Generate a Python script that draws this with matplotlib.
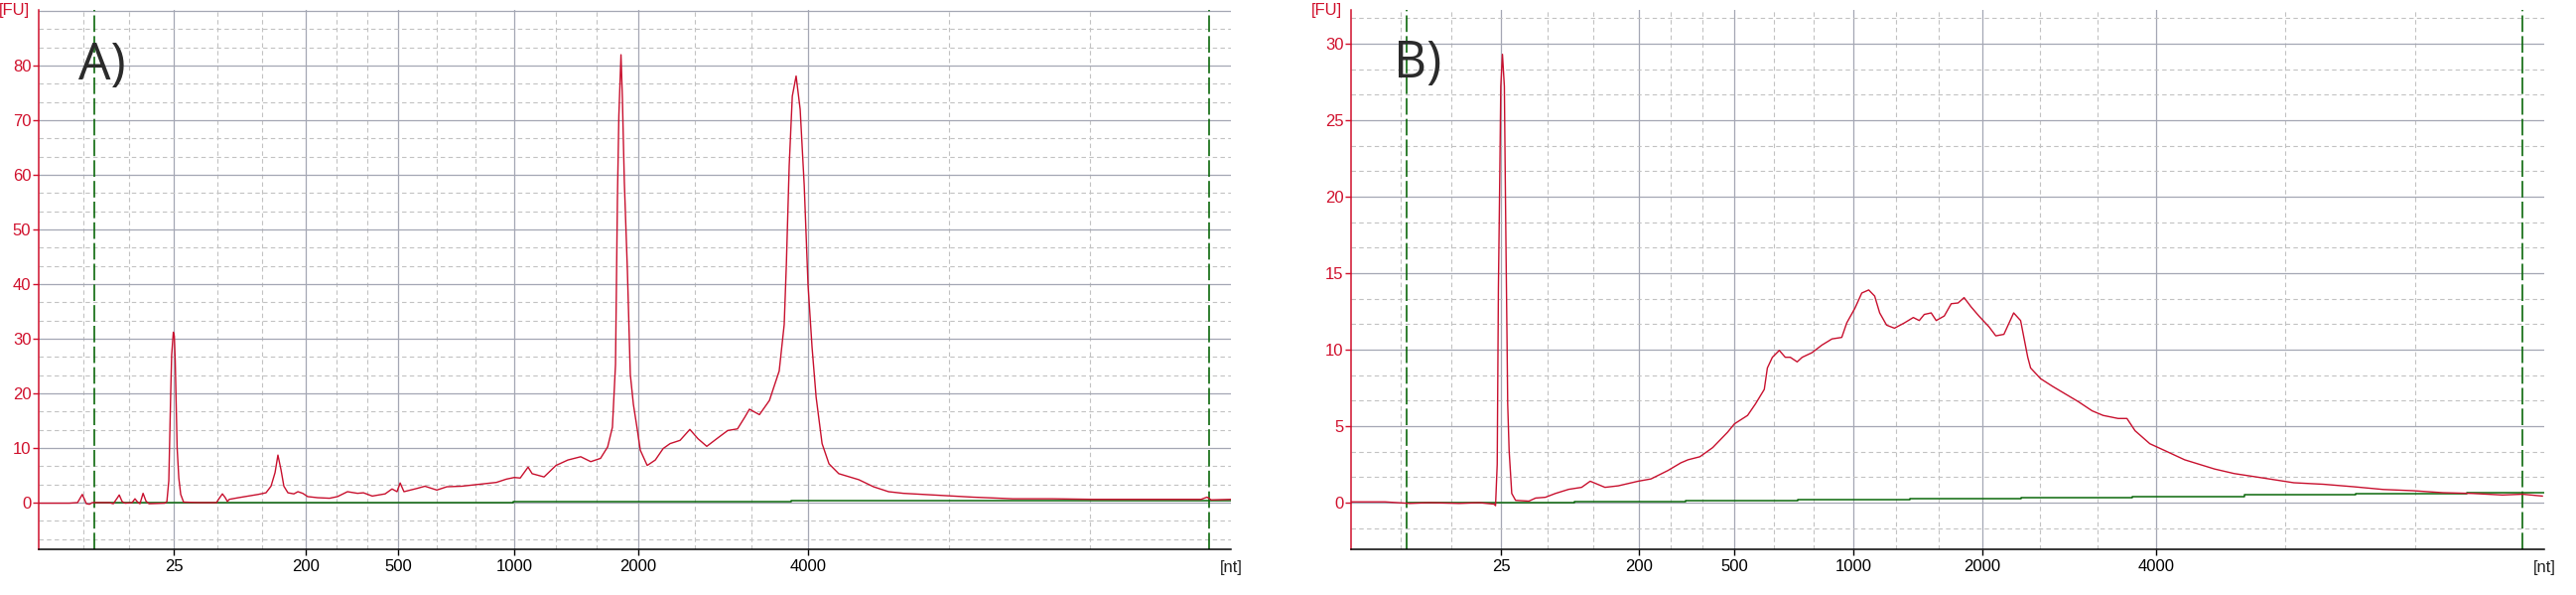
import matplotlib.pyplot as plt
import numpy as np

# ---- data: migration time [s] vs fluorescence [FU] ----
# Panel A
time_a = [19.00, 20.29, 20.63, 20.83, 21.00, 21.13, 21.25, 21.96, 22.13, 22.29, 22.38, 22.50,
          22.63, 22.92, 23.04, 23.17, 23.25, 23.38, 23.50, 23.63, 24.29, 24.38, 24.46, 24.50,
          24.54, 24.58, 24.65, 24.69, 24.73, 24.77, 24.81, 24.88, 24.96, 25.08, 25.71, 26.46,
          26.58, 26.71, 26.83, 26.92, 27.00, 27.38, 27.79, 28.21, 28.54, 28.75, 28.92, 29.04,
          29.17, 29.29, 29.46, 29.71, 29.88, 30.08, 30.29, 30.71, 31.21, 31.54, 31.96, 32.38,
          32.63, 33.00, 33.54, 33.83, 34.04, 34.17, 34.33, 34.88, 35.21, 35.71, 36.13, 36.75,
          37.38, 38.21, 38.63, 38.96, 39.21, 39.54, 39.71, 40.21, 40.71, 41.21, 41.75, 42.17,
          42.58, 42.88, 43.08, 43.21, 43.29, 43.35, 43.44, 43.50, 43.58, 43.71, 43.83, 43.96,
          44.13, 44.25, 44.54, 44.88, 45.21, 45.50, 45.92, 46.33, 46.67, 47.04, 47.46, 47.92,
          48.33, 48.63, 48.83, 49.25, 49.67, 50.08, 50.29, 50.38, 50.50, 50.63, 50.79, 50.96,
          51.13, 51.29, 51.46, 51.63, 51.88, 52.17, 52.58, 53.42, 54.04, 54.67, 55.29, 56.96,
          58.21, 59.88, 61.54, 63.21, 65.29, 67.79, 68.04, 68.21, 69.04]
fu_a = [-0.1, -0.1, 0.0, 1.5, -0.2, -0.3, 0.0, 0.0, -0.2, 0.8, 1.4, 0.2,
        -0.1, 0.0, 0.7, 0.0, -0.2, 1.7, 0.3, -0.2, -0.1, 0.2, 4.0, 12.0,
        20.0, 27.0, 31.2, 30.5, 26.0, 18.0, 10.0, 4.5, 1.5, 0.1, 0.0, 0.0,
        0.8, 1.6, 0.9, 0.2, 0.6, 0.9, 1.2, 1.5, 1.8, 3.0, 5.5, 8.7,
        6.0, 3.0, 1.8, 1.6, 2.0, 1.7, 1.1, 0.9, 0.8, 1.1, 2.0, 1.7,
        1.8, 1.2, 1.6, 2.5, 2.0, 3.6, 2.0, 2.6, 3.0, 2.3, 2.9, 3.0,
        3.3, 3.7, 4.3, 4.6, 4.5, 6.5, 5.3, 4.7, 6.8, 7.8, 8.4, 7.5,
        8.1, 10.2, 13.8, 25.3, 55.6, 70.8, 82.0, 73.8, 58.7, 42.3, 23.5, 18.0,
        13.2, 9.6, 6.8, 7.8, 9.9, 10.8, 11.4, 13.4, 11.7, 10.3, 11.7, 13.2,
        13.5, 15.6, 17.1, 16.1, 18.7, 24.1, 32.6, 43.5, 61.7, 74.4, 78.1, 72.0,
        58.1, 39.9, 28.4, 19.3, 10.8, 7.1, 5.3, 4.2, 2.9, 2.0, 1.7, 1.3,
        1.0, 0.7, 0.7, 0.6, 0.6, 0.6, 1.0, 0.5, 0.6]
base_time_a = [21.33, 38.92, 50.58, 69.04]
base_fu_a = [0.05, 0.2, 0.4, 0.4]

# Panel B
time_b = [19.00, 20.42, 21.46, 22.29, 23.54, 24.38, 25.00, 25.06, 25.13, 25.18, 25.24, 25.28,
          25.35, 25.43, 25.46, 25.50, 25.54, 25.57, 25.63, 25.74, 25.90, 26.46, 26.74, 27.15,
          27.57, 28.13, 28.67, 29.03, 29.65, 30.21, 31.04, 31.58, 32.29, 32.83, 33.13, 33.63,
          34.17, 34.79, 35.08, 35.63, 35.96, 36.33, 36.46, 36.67, 36.96, 37.21, 37.42, 37.71,
          37.92, 38.33, 38.75, 39.17, 39.58, 39.79, 40.13, 40.42, 40.71, 40.96, 41.17, 41.46,
          41.79, 42.21, 42.58, 42.83, 43.04, 43.33, 43.54, 43.88, 44.17, 44.46, 44.71, 45.00,
          45.33, 45.75, 46.04, 46.38, 46.79, 47.08, 47.38, 47.50, 47.92, 48.42, 48.96, 49.50,
          50.08, 50.54, 51.17, 51.54, 51.88, 52.50, 53.13, 53.96, 55.21, 56.04, 56.88, 57.71,
          58.54, 59.79, 61.04, 62.29, 63.54, 64.79, 66.04, 67.29, 68.13, 68.96]
fu_b = [0.05, 0.05, -0.05, 0.0, -0.05, 0.0, -0.1, -0.2, 2.5, 14.0, 21.6, 27.2,
        29.3, 27.2, 22.4, 16.4, 10.9, 6.45, 3.4, 0.6, 0.15, 0.1, 0.3, 0.35,
        0.6, 0.87, 1.0, 1.4, 1.0, 1.1, 1.4, 1.55, 2.1, 2.6, 2.8, 3.0,
        3.6, 4.6, 5.15, 5.7, 6.45, 7.4, 8.8, 9.5, 9.95, 9.5, 9.5, 9.2,
        9.5, 9.8, 10.3, 10.7, 10.8, 11.75, 12.7, 13.7, 13.9, 13.5, 12.4, 11.6,
        11.4, 11.75, 12.1, 11.9, 12.3, 12.4, 11.9, 12.2, 13.0, 13.05, 13.4, 12.8,
        12.2, 11.5, 10.9, 11.0, 12.4, 11.9, 9.5, 8.8, 8.1, 7.6, 7.1, 6.6,
        6.0, 5.7, 5.5, 5.5, 4.7, 3.85, 3.4, 2.8, 2.2, 1.9, 1.7, 1.5,
        1.3, 1.2, 1.04, 0.86, 0.78, 0.65, 0.6, 0.5, 0.55, 0.43]
base_time_b = [21.33, 28.38, 33.04, 37.75, 42.42, 47.08, 51.75, 56.46, 61.13, 65.79, 69.04]
base_fu_b = [0.0, 0.07, 0.14, 0.21, 0.28, 0.35, 0.42, 0.49, 0.56, 0.63, 0.63]

# ladder sizes and their migration times in each run
ladder_nt = ['25', '200', '500', '1000', '2000', '4000']
ladder_time_a = [24.67, 30.21, 34.08, 38.96, 44.17, 51.29]
ladder_time_b = [25.30, 31.07, 35.07, 40.07, 45.46, 52.76]
marker_time = [21.33, 68.13]   # lower / upper marker

RED = '#d0102c'
TRACE = '#c8102e'
GREEN = '#0c680c'
MAJOR = '#a4a7b4'
MINOR = '#c2c2c2'
XMIN, XMAX = 19.0, 69.04

W, H = 2595, 599
fig = plt.figure(figsize=(W / 100, H / 100), dpi=100)
plt.rcParams['font.family'] = 'Liberation Sans'


def draw_panel(rect, t, fu, bt, bfu, ladder_t, ylim, ystep, ytop_tick):
    ax = fig.add_axes(rect)
    ax.set_xlim(XMIN, XMAX)
    ax.set_ylim(*ylim)

    # vertical grid: solid at ladder sizes, dashed thirds in between
    edges = [XMIN] + ladder_t + [XMAX]
    for a, b in zip(edges[:-1], edges[1:]):
        for k in (1, 2):
            ax.axvline(a + k * (b - a) / 3, color=MINOR, lw=0.8, ls=(0, (4, 3)), zorder=0)
    for x in ladder_t:
        ax.axvline(x, color=MAJOR, lw=0.9, zorder=0)

    # horizontal grid: solid at majors, dashed thirds
    y0 = np.floor(ylim[0] / ystep) * ystep
    for y in np.arange(y0, ylim[1] + 1e-6, ystep):
        if y >= ylim[0]:
            ax.axhline(y, color=MAJOR, lw=0.9, zorder=0)
        for k in (1, 2):
            yy = y + k * ystep / 3
            if ylim[0] < yy < ylim[1]:
                ax.axhline(yy, color=MINOR, lw=0.8, ls=(0, (4, 3)), zorder=0)

    # lower / upper markers
    for x in marker_time:
        ax.axvline(x, color=GREEN, lw=1.2, ls=(0, (10, 2.5)), zorder=2)

    ax.step(bt, bfu, where='post', color=GREEN, lw=1.1, zorder=3)
    ax.plot(t, fu, color=TRACE, lw=1.0, zorder=4)

    ax.set_xticks(ladder_t)
    ax.set_xticklabels(ladder_nt)
    ax.set_yticks(np.arange(0, ytop_tick + 1e-6, ystep))
    ax.tick_params(axis='x', colors='black', length=4.5, width=1, labelsize=12, pad=2.5)
    ax.tick_params(axis='y', colors=RED, length=4, width=1, labelsize=12, pad=1.5)
    for s in ('top', 'right'):
        ax.spines[s].set_visible(False)
    ax.spines['left'].set_color(RED)
    ax.spines['left'].set_linewidth(1.1)
    ax.spines['bottom'].set_color('black')
    ax.spines['bottom'].set_linewidth(1.1)

    ax.annotate('[FU]', xy=(0, 1), xycoords='axes fraction', xytext=(-6.5, 0),
                textcoords='offset points', ha='right', va='center', color=RED, fontsize=12)
    ax.annotate('[nt]', xy=(1, 0), xycoords='axes fraction', xytext=(0, -13.5),
                textcoords='offset points', ha='center', va='center', color='#222222', fontsize=12)
    return ax


bottom = 46 / H
height = 543 / H
draw_panel([39 / W, bottom, 1201 / W, height], time_a, fu_a, base_time_a, base_fu_a,
           ladder_time_a, (-8.55, 90.2), 10, 80)
draw_panel([1361 / W, bottom, 1202 / W, height], time_b, fu_b, base_time_b, base_fu_b,
           ladder_time_b, (-3.05, 32.2), 5, 30)

fig.text(79 / W, (H - 80) / H, 'A)', fontsize=37, color='#2b2b2b', family='Open Sans',
         va='baseline', ha='left')
fig.text(1404 / W, (H - 78) / H, 'B)', fontsize=37, color='#2b2b2b', family='Open Sans',
         va='baseline', ha='left')

fig.savefig('out.png', dpi=100)
